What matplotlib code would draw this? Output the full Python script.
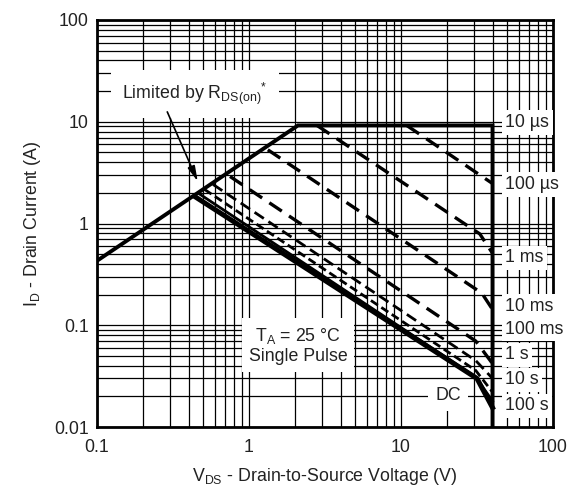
import matplotlib
matplotlib.use("Agg")
import matplotlib.pyplot as plt
from matplotlib.ticker import FixedLocator, FixedFormatter, LogLocator, NullFormatter

plt.rcParams["font.family"] = ["Liberation Sans", "DejaVu Sans"]
plt.rcParams["mathtext.fontset"] = "custom"
plt.rcParams["mathtext.rm"] = "Liberation Sans"
plt.rcParams["mathtext.it"] = "Liberation Sans:italic"
plt.rcParams["mathtext.bf"] = "Liberation Sans:bold"

FS = 12.8

# outer envelope: R_DS(on) limit, 10 us current ceiling, V_DS max
env_v = [0.1, 2.1, 40, 40]
env_i = [0.43, 9.2, 9.2, 0.0095]

# pulse-width curves (V_DS in V, I_D in A)
curves = {
    "100 µs": ([10.9, 40], [9.2, 2.47]),
    "1 ms": ([2.8, 33, 40], [9.2, 0.79, 0.51]),
    "10 ms": ([1.33, 34, 40], [5.3, 0.207, 0.143]),
    "100 ms": ([0.75, 31, 40], [2.9, 0.070, 0.042]),
    "1 s": ([0.58, 31, 40], [2.42, 0.045, 0.030]),
    "10 s": ([0.51, 31, 40], [2.16, 0.036, 0.022]),
    "100 s": ([0.47, 31, 40], [1.96, 0.031, 0.018]),
}
dc_v = [0.44, 31.6, 40]
dc_i = [1.84, 0.030, 0.0155]

# right-hand labels and the current level each sits at
label_names = ["10 µs", "100 µs", "1 ms", "10 ms", "100 ms", "1 s", "10 s", "100 s"]
label_i = [9.84, 2.42, 0.46, 0.153, 0.091, 0.0515, 0.0292, 0.0162]

styles = {
    "100 µs": dict(lw=2.4, dashes=(4.5, 2.6)),
    "1 ms": dict(lw=2.4, dashes=(4.5, 2.6)),
    "10 ms": dict(lw=2.4, dashes=(4.5, 2.6)),
    "100 ms": dict(lw=2.4, dashes=(4.5, 2.6)),
    "1 s": dict(lw=2.0, dashes=(4.0, 2.0)),
    "10 s": dict(lw=2.0, dashes=(3.0, 1.5)),
    "100 s": dict(lw=2.0),
}

fig = plt.figure(figsize=(5.74, 4.87), dpi=100)
ax = fig.add_axes([97 / 574, 1 - 427 / 487, 456 / 574, 407 / 487])
ax.set_xscale("log")
ax.set_yscale("log")
ax.set_xlim(0.1, 100)
ax.set_ylim(0.01, 100)

ax.xaxis.set_major_locator(FixedLocator([0.1, 1, 10, 100]))
ax.xaxis.set_major_formatter(FixedFormatter(["0.1", "1", "10", "100"]))
ax.yaxis.set_major_locator(FixedLocator([0.01, 0.1, 1, 10, 100]))
ax.yaxis.set_major_formatter(FixedFormatter(["0.01", "0.1", "1", "10", "100"]))
for axis in (ax.xaxis, ax.yaxis):
    axis.set_minor_locator(LogLocator(base=10, subs=range(2, 10)))
    axis.set_minor_formatter(NullFormatter())
ax.tick_params(which="both", length=0, labelsize=FS, colors="#222222")
ax.tick_params(axis="x", pad=9)
ax.tick_params(axis="y", pad=6)
ax.grid(True, which="both", color="black", lw=0.9, zorder=1)
ax.set_axisbelow(True)
for sp in ax.spines.values():
    sp.set_linewidth(2.0)

ax.plot(env_v, env_i, color="black", lw=2.8, solid_joinstyle="miter", zorder=4)
for name, (v, i) in curves.items():
    ax.plot(v, i, color="black", zorder=3, **styles[name])
ax.plot(dc_v, dc_i, color="black", lw=3.6, zorder=4)

box = dict(facecolor="white", edgecolor="none", pad=2.5)
for name, yi in zip(label_names, label_i):
    ax.text(48.5, yi, name, fontsize=FS, va="center", ha="left",
            color="#222222", bbox=box, zorder=6)

ax.text(20.4, 0.0204, "DC", fontsize=FS, ha="center", va="center",
        color="#222222", bbox=dict(facecolor="white", edgecolor="none", pad=5), zorder=6)

ax.text(2.1, 0.063, "T$_\\mathrm{A}$ = 25 °C\nSingle Pulse", fontsize=FS,
        ha="center", va="center", linespacing=1.2, color="#222222",
        bbox=dict(facecolor="white", edgecolor="none", pad=5), zorder=6)

ax.text(0.44, 18.6, r"Limited by R$_{\mathrm{DS(on)}}$$^{*}$", fontsize=FS,
        ha="center", va="center", color="#222222",
        bbox=dict(facecolor="white", edgecolor="none", pad=8), zorder=6)
ax.annotate("", xy=(0.46, 2.59), xytext=(0.29, 12.5),
            arrowprops=dict(arrowstyle="-|>,head_length=0.9,head_width=0.22",
                            color="black", lw=1.2, shrinkA=0, shrinkB=0),
            zorder=7)

ax.set_xlabel(r"V$_{\mathrm{DS}}$ - Drain-to-Source Voltage (V)", fontsize=FS,
              color="#222222", labelpad=7)
ax.set_ylabel(r"I$_{\mathrm{D}}$ - Drain Current (A)", fontsize=FS,
              color="#222222", labelpad=8)

fig.savefig("out.png", dpi=100)
